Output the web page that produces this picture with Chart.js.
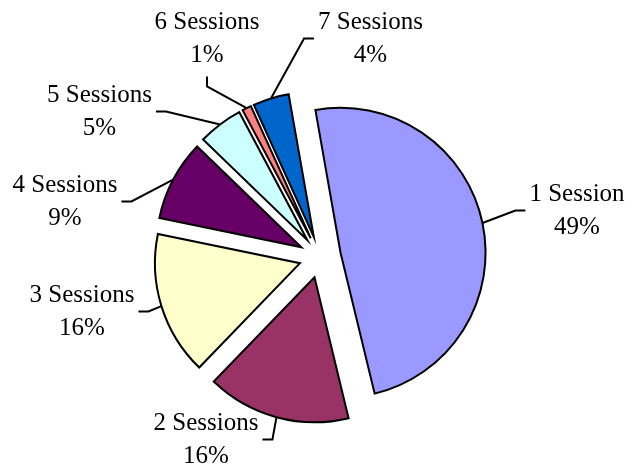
<!DOCTYPE html>
<html>
<head>
<meta charset="utf-8">
<script src="https://cdn.jsdelivr.net/npm/chart.js@4.4.0/dist/chart.umd.min.js"></script>
<style>
html, body { margin: 0; padding: 0; background: #fff; }
#wrap { width: 625px; height: 466px; }
</style>
</head>
<body>
<div id="wrap"><canvas id="chart" width="625" height="466"></canvas></div>
<script>
var categories = ['1 Session', '2 Sessions', '3 Sessions', '4 Sessions', '5 Sessions', '6 Sessions', '7 Sessions'];
var shares = [49, 16, 16, 9, 5, 1, 4];
var pctLabels = shares.map(function(v){ return v + '%'; });

var colors = ['#9999FF', '#993366', '#FFFFCC', '#660066', '#CCFFFF', '#FF8080', '#0066CC'];

var PIE_R = 145;     // pie radius
var EXPLODE = 21;    // how far every slice is pulled out

// label blocks, relative to the pie centre, and the side the leader line meets
var labelPos = [
	{dx: 257, dy: -46.5, side: 'left'},
	{dx: -114, dy: 182.5, side: 'right'},
	{dx: -238, dy: 54.5, side: 'right'},
	{dx: -255, dy: -55.5, side: 'right'},
	{dx: -220.5, dy: -145.5, side: 'right'},
	{dx: -113, dy: -218.5, side: 'bottom'},
	{dx: 50.5, dy: -218.5, side: 'left'}
];

function pieCentre(chart){
	var a = chart.chartArea;
	return {x: (a.left + a.right) / 2, y: (a.top + a.bottom) / 2};
}

// pull each slice out along its middle angle
var explodeArcs = {
	id: 'explodeArcs',
	beforeDatasetsDraw: function(chart){
		var c = pieCentre(chart);
		chart.getDatasetMeta(0).data.forEach(function(arc){
			var mid = (arc.startAngle + arc.endAngle) / 2;
			arc.x = c.x + Math.cos(mid) * EXPLODE;
			arc.y = c.y + Math.sin(mid) * EXPLODE;
		});
	}
};

var leaderLabels = {
	id: 'leaderLabels',
	afterDatasetsDraw: function(chart){
		var ctx = chart.ctx;
		var c = pieCentre(chart);
		var arcs = chart.getDatasetMeta(0).data;
		ctx.save();
		ctx.font = '25px "Liberation Serif", "Times New Roman", serif';
		ctx.fillStyle = '#000';
		ctx.strokeStyle = '#000';
		ctx.lineWidth = 2;
		ctx.textAlign = 'center';
		ctx.textBaseline = 'middle';
		for(var i = 0; i < arcs.length; i++){
			var arc = arcs[i];
			var mid = (arc.startAngle + arc.endAngle) / 2;
			var sx = arc.x + Math.cos(mid) * PIE_R;
			var sy = arc.y + Math.sin(mid) * PIE_R;
			var p = labelPos[i];
			var cx = c.x + p.dx;
			var cy = c.y + p.dy;
			var w = Math.max(ctx.measureText(categories[i]).width, ctx.measureText(pctLabels[i]).width);
			var ax, ay, ex, ey;
			if(p.side == 'left'){
				ax = cx - w / 2 - 4; ay = cy; ex = ax - 10; ey = cy;
			} else if(p.side == 'right'){
				ax = cx + w / 2 + 4; ay = cy; ex = ax + 10; ey = cy;
			} else {
				ax = cx; ay = cy + 38; ex = cx; ey = ay + 10;
			}
			ctx.beginPath();
			ctx.moveTo(sx, sy);
			ctx.lineTo(ex, ey);
			ctx.lineTo(ax, ay);
			ctx.stroke();
			ctx.fillText(categories[i], cx, cy - 16.5);
			ctx.fillText(pctLabels[i], cx, cy + 16.5);
		}
		ctx.restore();
	}
};

var grafico = new Chart(document.getElementById('chart'), {
	type: 'pie',
	data: {
		labels: categories,
		datasets: [{
			data: shares,
			backgroundColor: colors,
			borderColor: '#000',
			borderWidth: 2,
			borderJoinStyle: 'miter'
		}]
	},
	options: {
		responsive: false,
		animation: false,
		events: [],
		rotation: -10,
		radius: PIE_R,
		layout: { padding: { left: 15, right: 0, top: 48, bottom: 0 } },
		plugins: {
			legend: { display: false },
			tooltip: { enabled: false }
		}
	},
	plugins: [explodeArcs, leaderLabels]
});
</script>
</body>
</html>
